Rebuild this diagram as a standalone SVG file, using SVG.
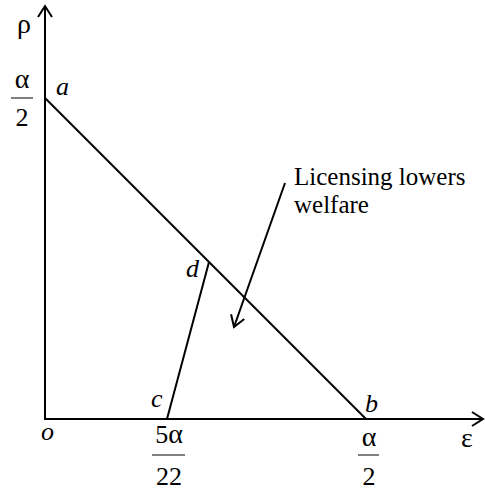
<svg xmlns="http://www.w3.org/2000/svg" width="485" height="490" viewBox="0 0 485 490">
<style>
.t{font-family:"Liberation Serif","Times New Roman",serif;font-size:26px;fill:#000}
.n{font-size:25px}
.g{font-size:28px}
.i{font-style:italic}
.ln{stroke:#000;stroke-width:2;fill:none}
.bar{stroke:#555;stroke-width:1.5}
</style>
<defs>
<marker id="ah" markerUnits="userSpaceOnUse" markerWidth="20" markerHeight="20" viewBox="-12 -10 14 20" refX="0" refY="0" orient="auto">
<path d="M-11,-7 L0,0 L-11,7" fill="none" stroke="#000" stroke-width="2"/>
</marker>
</defs>
<rect width="485" height="490" fill="#fff"/>
<g id="connectors">
<line class="ln" x1="45" y1="419" x2="45" y2="6" marker-end="url(#ah)"/>
<line class="ln" x1="44" y1="419" x2="483" y2="419" marker-end="url(#ah)"/>
<line class="ln" x1="45" y1="98" x2="366" y2="419"/>
<line class="ln" x1="167" y1="419" x2="209" y2="262"/>
<line class="ln" x1="285" y1="183" x2="234" y2="327" marker-end="url(#ah)"/>
</g>
<g id="labels">
<text class="t g" x="17" y="33">ρ</text>
<text class="t g" x="461" y="447">ε</text>
<text class="t g" x="22" y="88" text-anchor="middle">α</text>
<line class="bar" x1="11" y1="98" x2="33" y2="98"/>
<text class="t" x="22" y="126" text-anchor="middle">2</text>
<text class="t" x="169" y="443" text-anchor="middle">5<tspan class="g">α</tspan></text>
<line class="bar" x1="152" y1="455" x2="185" y2="455"/>
<text class="t" x="169" y="485" text-anchor="middle">22</text>
<text class="t g" x="369" y="446" text-anchor="middle">α</text>
<line class="bar" x1="358" y1="455" x2="379" y2="455"/>
<text class="t" x="369" y="485" text-anchor="middle">2</text>
</g>
<g id="node-a"><text class="t i" x="56" y="95">a</text></g>
<g id="node-b"><text class="t i" x="365" y="412">b</text></g>
<g id="node-c"><text class="t i" x="151" y="407">c</text></g>
<g id="node-d"><text class="t i" x="186" y="277">d</text></g>
<g id="node-o"><text class="t i" x="41" y="440">o</text></g>
<g id="note"><text class="t n" x="294" y="185">Licensing lowers</text><text class="t n" x="294" y="213">welfare</text></g>
</svg>
